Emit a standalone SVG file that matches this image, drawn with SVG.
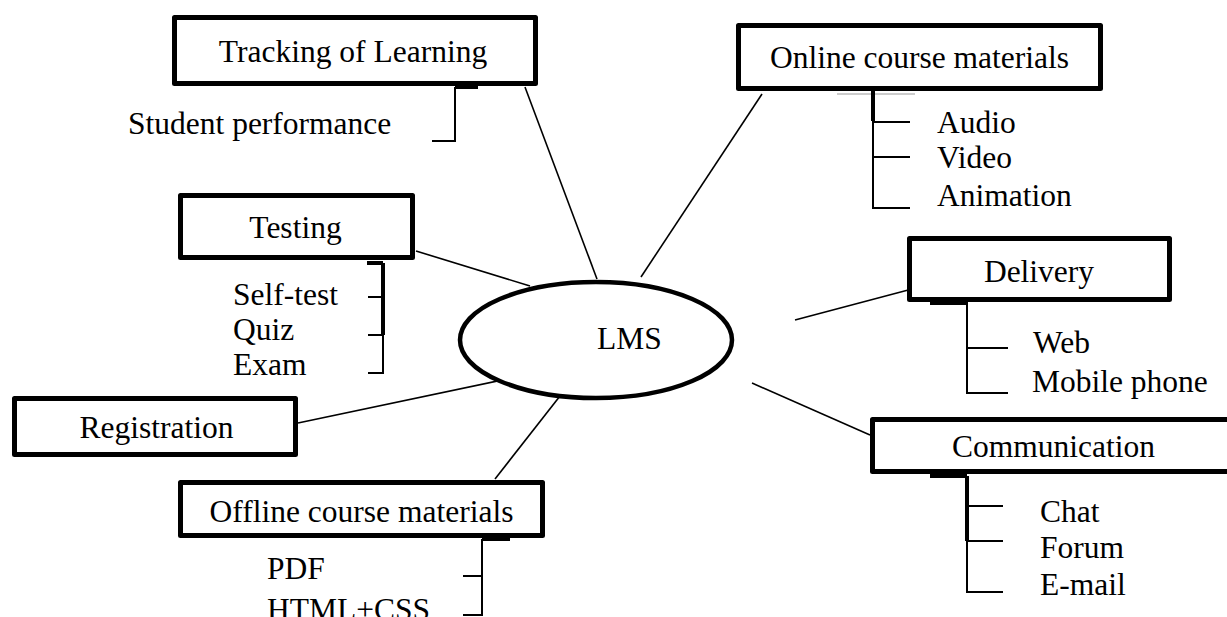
<svg xmlns="http://www.w3.org/2000/svg" width="1227" height="617" viewBox="0 0 1227 617">
<style>
text{font-family:"Liberation Serif","Times New Roman",serif;font-size:31.5px;fill:#000}
.c{text-anchor:middle}
.box{fill:#fff;stroke:#000;stroke-width:5;stroke-linejoin:round}
.ln{stroke:#000;stroke-width:1.6;fill:none}
.br{stroke:#000;stroke-width:2;fill:none}
.tk{stroke:#000;stroke-width:4;fill:none}
</style>
<rect width="1227" height="617" fill="#fff"/>
<g id="connectors">
<line class="ln" x1="525" y1="87" x2="597" y2="279"/>
<line class="ln" x1="762" y1="94" x2="641" y2="277"/>
<line class="ln" x1="416" y1="251" x2="530" y2="286"/>
<line class="ln" x1="795" y1="320" x2="912" y2="289"/>
<line class="ln" x1="752" y1="383" x2="870" y2="435"/>
<line class="ln" x1="298" y1="423" x2="512" y2="378"/>
<line class="ln" x1="495" y1="479" x2="560" y2="396"/>
</g>
<g id="lms">
<ellipse cx="596" cy="340" rx="136" ry="58" fill="#fff" stroke="#000" stroke-width="4.5"/>
<text x="597" y="349">LMS</text>
</g>
<g id="tracking">
<rect class="box" x="174.5" y="17.5" width="361" height="66"/>
<text class="c" x="353" y="62">Tracking of Learning</text>
<path class="tk" d="M455 87H478"/>
<path class="br" d="M455 87V141H432"/>
<text x="128" y="134">Student performance</text>
</g>
<g id="online">
<rect class="box" x="738.5" y="25.5" width="362" height="63"/>
<text class="c" x="919.5" y="68">Online course materials</text>
<path class="tk" d="M837 89H873"/>
<path d="M837 94H915" stroke="#999" stroke-width="1.2"/>
<path class="tk" d="M873 89V121" stroke-width="3"/>
<path class="br" d="M873 89V208H910M873 122H910M873 157H910"/>
<text x="937" y="133">Audio</text>
<text x="937" y="168">Video</text>
<text x="937" y="206">Animation</text>
</g>
<g id="testing">
<rect class="box" x="180.5" y="195.5" width="232" height="62"/>
<text class="c" x="295.5" y="238">Testing</text>
<path class="tk" d="M367 263H383"/>
<path class="tk" d="M383 263V335" stroke-width="3"/>
<path class="br" d="M383 263V373H368M383 297H368M383 335H368"/>
<text x="233" y="305">Self-test</text>
<text x="233" y="340">Quiz</text>
<text x="233" y="375">Exam</text>
</g>
<g id="delivery">
<rect class="box" x="909.5" y="238.5" width="260" height="61"/>
<text class="c" x="1039" y="282">Delivery</text>
<path class="tk" d="M930 303H968"/>
<path class="br" d="M967 302V393H1008M967 348H1008"/>
<text x="1033" y="353">Web</text>
<text x="1032" y="392">Mobile phone</text>
</g>
<g id="registration">
<rect class="box" x="14.5" y="398.5" width="281" height="56"/>
<text class="c" x="156.5" y="438">Registration</text>
</g>
<g id="offline">
<rect class="box" x="180.5" y="482.5" width="362" height="53"/>
<text class="c" x="361.5" y="522">Offline course materials</text>
<path class="tk" d="M482 539H510"/>
<path class="br" d="M482 539V615H463M482 576H463"/>
<text x="267" y="579">PDF</text>
<text x="267" y="620">HTML+CSS</text>
</g>
<g id="communication">
<rect class="box" x="872.5" y="419.5" width="362" height="52"/>
<text class="c" x="1053.5" y="457">Communication</text>
<path class="tk" d="M930 476H967"/>
<path class="tk" d="M967 476V541" stroke-width="3"/>
<path class="br" d="M967 476V592H1003M967 506H1003M967 541H1003"/>
<text x="1040" y="522">Chat</text>
<text x="1040" y="558">Forum</text>
<text x="1040" y="595">E-mail</text>
</g>
</svg>
